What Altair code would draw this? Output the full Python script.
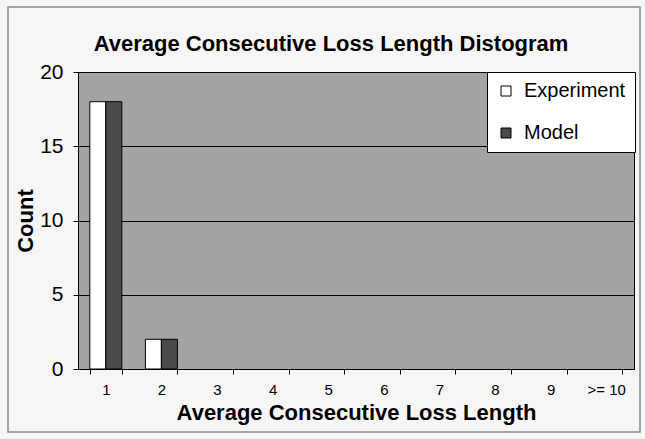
import altair as alt
import pandas as pd

categories = ["1", "2", "3", "4", "5", "6", "7", "8", "9", ">= 10"]
experiment = [18, 2, 0, 0, 0, 0, 0, 0, 0, 0]
model = [18, 2, 0, 0, 0, 0, 0, 0, 0, 0]
series = ["Experiment", "Model"]
series_colors = ["#ffffff", "#4b4b4b"]
y_ticks = [0, 5, 10, 15, 20]

rows = []
for c, e, m in zip(categories, experiment, model):
    rows.append({"length": c, "series": "Experiment", "count": e})
    rows.append({"length": c, "series": "Model", "count": m})
df = pd.DataFrame(rows)

FONT = "Liberation Sans"

bars = alt.Chart(df).mark_bar(stroke="black", strokeWidth=1).encode(
    x=alt.X(
        "length:N",
        sort=categories,
        scale=alt.Scale(domain=categories, paddingInner=0.425, paddingOuter=0.2125),
        axis=alt.Axis(
            title="Average Consecutive Loss Length",
            labelAngle=0,
            labelFontSize=15,
            labelPadding=8,
            tickBand="extent",
            tickSize=5,
            tickColor="black",
            domainColor="black",
            titleFontSize=22,
            titleFontWeight="bold",
            titlePadding=5,
            grid=False,
        ),
    ),
    xOffset=alt.XOffset("series:N", sort=series, scale=alt.Scale(domain=series)),
    y=alt.Y(
        "count:Q",
        scale=alt.Scale(domain=[0, 20]),
        axis=alt.Axis(
            title="Count",
            values=y_ticks,
            labelFontSize=21,
            labelPadding=10,
            tickSize=5,
            tickColor="black",
            domainColor="black",
            gridColor="black",
            gridWidth=1,
            gridOpacity=1,
            titleFontSize=22,
            titleFontWeight="bold",
            titlePadding=2,
        ),
    ),
    color=alt.Color(
        "series:N",
        sort=series,
        scale=alt.Scale(domain=series, range=series_colors),
        legend=alt.Legend(
            title=None,
            orient="none",
            legendX=409,
            legendY=0,
            fillColor="white",
            strokeColor="black",
            padding=9,
            labelFontSize=20,
            labelOffset=8,
            symbolType="square",
            symbolSize=100,
            symbolStrokeColor="black",
            symbolStrokeWidth=1,
            rowPadding=22,
        ),
    ),
).transform_filter("datum.count > 0")

frame = alt.Chart(pd.DataFrame({"a": [0]})).mark_rect(
    fillOpacity=0, stroke="#8a8a8a", strokeWidth=1.5
).encode(
    x=alt.value(-70), x2=alt.value(562), y=alt.value(-65), y2=alt.value(360)
)

chart = (
    alt.layer(frame, bars)
    .properties(
        width=556,
        height=297,
        background="#f6f6f6",
        padding={"left": 78, "top": 72, "right": 11, "bottom": 70},
        autosize=alt.AutoSizeParams(type="none"),
        title=alt.Title(
            "Average Consecutive Loss Length Distogram",
            fontSize=22,
            fontWeight="bold",
            font=FONT,
            offset=0,
            dy=50,
            dx=-25,
            anchor="middle",
            color="black",
        ),
    )
    .configure(font=FONT)
    .configure_view(fill="#a3a3a3", stroke="black", strokeWidth=1)
    .configure_axis(labelColor="black", titleColor="black", labelFont=FONT, titleFont=FONT)
    .configure_legend(labelColor="black", labelFont=FONT)
)

chart.save("out.html", embed_options={"renderer": "svg", "actions": False})
